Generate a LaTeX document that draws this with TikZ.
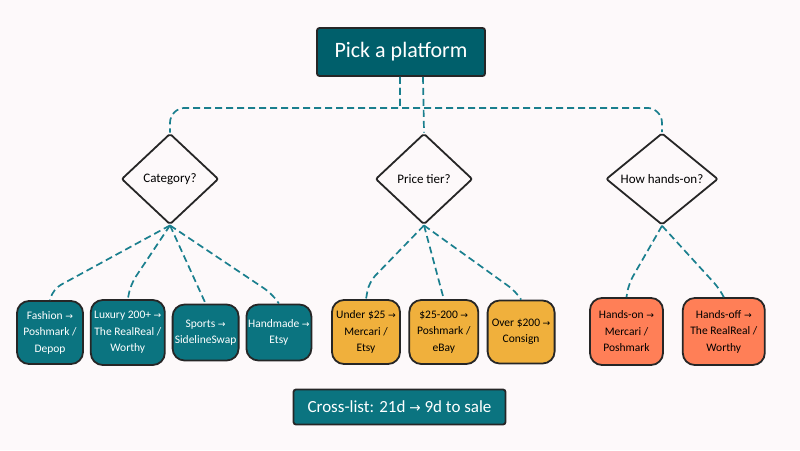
\documentclass[tikz,border=0pt]{standalone}
\usepackage{fontspec}
\setmainfont{Carlito}
\newfontfamily\arrowfont{DejaVu Sans}
\usetikzlibrary{calc,positioning,chains,shapes.geometric,scopes}
\definecolor{pagebg}{HTML}{FDF9FA}
\definecolor{darkteal}{HTML}{005F6B}
\definecolor{midteal}{HTML}{0B7480}
\definecolor{linkteal}{HTML}{1A7F8E}
\definecolor{amber}{HTML}{F0B03C}
\definecolor{coral}{HTML}{FF7F57}
\newcommand{\ra}{{\arrowfont\scalebox{0.8}{→}}}
\tikzset{
    leaf/.style={
        rectangle,
        rounded corners=12pt,
        draw=black!85, line width=1.8pt,
        align=center,
        inner sep=0pt,
        font=\fontsize{11.5}{16.5}\selectfont,
        on chain
    },
    tealleaf/.style={leaf, fill=midteal, text=white},
    amberleaf/.style={leaf, fill=amber, text=black},
    coralleaf/.style={leaf, fill=coral, text=black},
    question/.style={
        diamond,
        rounded corners=2pt,
        draw=black!85, line width=1.8pt,
        fill=pagebg,
        inner sep=0pt,
        font=\fontsize{13}{16}\selectfont
    },
    banner/.style={
        rectangle,
        rounded corners=2.5pt,
        draw=black!85, line width=1.8pt,
        text=white,
        inner sep=0pt
    },
    link/.style={draw=linkteal, line width=1.7pt, dash pattern=on 7pt off 4pt, rounded corners=9pt}
}
\begin{document}
\begin{tikzpicture}[x=1pt,y=-1pt]
    \fill[pagebg] (0,0) rectangle (800,450);
    \useasboundingbox (0,0) rectangle (800,450);

    \node[banner,fill=darkteal,minimum width=168pt,minimum height=48pt,font=\fontsize{22}{26}\selectfont] (root) at (401,52) {Pick a platform};

    \node[question,minimum width=97pt,minimum height=91pt] (Q1) at (170,179) {Category?};
    \node[question,minimum width=97pt,minimum height=91pt] (Q2) at (424,179) {Price tier?};
    \node[question,minimum width=112pt,minimum height=91pt] (Q3) at (662,179) {How hands-on?};

    { [start chain=cat going right,node distance=6pt]
        \node[tealleaf,minimum width=66pt,minimum height=63pt] (L1) at (50,332.5) {Fashion \ra\\Poshmark /\\Depop};
        \node[tealleaf,minimum width=74pt,minimum height=65pt] (L2) {Luxury 200+ \ra\\The RealReal /\\Worthy};
        \node[tealleaf,minimum width=66pt,minimum height=56pt] (L3) {Sports \ra\\SidelineSwap};
        \node[tealleaf,minimum width=65pt,minimum height=56pt] (L4) {Handmade \ra\\Etsy};
    }
    { [start chain=tier going right,node distance=7.5pt]
        \node[amberleaf,minimum width=68pt,minimum height=64pt] (M1) at (366,332) {Under \$25 \ra\\Mercari /\\Etsy};
        \node[amberleaf,minimum width=69pt,minimum height=64pt] (M2) {\$25-200 \ra\\Poshmark /\\eBay};
        \node[amberleaf,minimum width=67pt,minimum height=63pt] (M3) {Over \$200 \ra\\Consign};
    }
    { [start chain=effort going right,node distance=18pt]
        \node[coralleaf,minimum width=73pt,minimum height=67pt] (R1) at (626.5,331.5) {Hands-on \ra\\Mercari /\\Poshmark};
        \node[coralleaf,minimum width=82pt,minimum height=67pt] (R2) {Hands-off \ra\\The RealReal /\\Worthy};
    }

    \node[banner,fill=midteal,minimum width=212pt,minimum height=35pt,font=\fontsize{17}{21}\selectfont] (note) at (399.5,407) {Cross-list: 21d \ra{} 9d to sale};

    \draw[link] ([xshift=-1pt]root.south) [sharp corners] -- ++(0,31) [rounded corners=15pt] -| (Q1.north);
    \draw[link] ([xshift=-1pt]root.south) [sharp corners] -- ++(0,31) [rounded corners=15pt] -| (Q3.north);
    \draw[link] ([xshift=22pt]root.south) -- (Q2.north);

    \draw[link] (Q1.south) -- ([xshift=3pt,yshift=11pt]L1.north) -- (L1.north);
    \draw[link] (Q1.south) -- ([xshift=3pt,yshift=15pt]L2.north) -- (L2.north);
    \draw[link] (Q1.south) -- (L3.north);
    \draw[link] (Q1.south) -- ([xshift=-7pt,yshift=10pt]L4.north) -- (L4.north);

    \draw[link] (Q2.south) -- ([xshift=3pt,yshift=17pt]M1.north) -- (M1.north);
    \draw[link] (Q2.south) -- (M2.north);
    \draw[link] (Q2.south) -- ([xshift=-5pt,yshift=8pt]M3.north) -- (M3.north);

    \draw[link] (Q3.south) -- ([xshift=2pt,yshift=13pt]R1.north) -- (R1.north);
    \draw[link] (Q3.south) -- ([xshift=-4pt,yshift=8pt]R2.north) -- (R2.north);
\end{tikzpicture}
\end{document}
